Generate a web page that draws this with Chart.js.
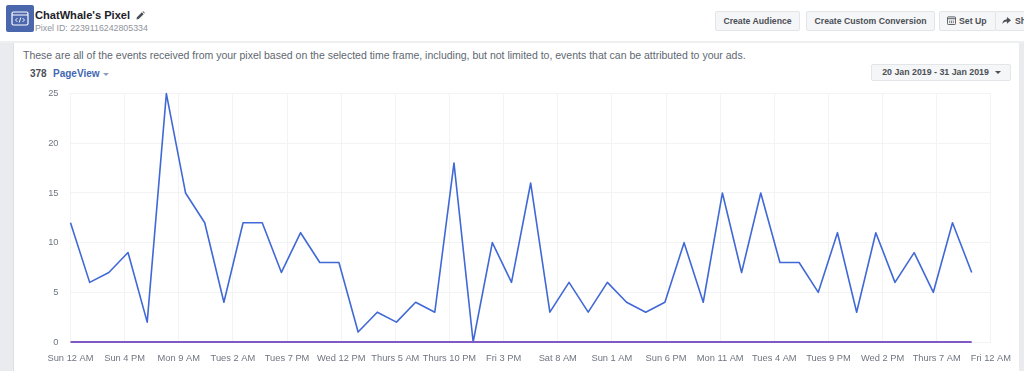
<!DOCTYPE html>
<html lang="en">
<head>
    <meta charset="UTF-8">
    <title>ChatWhale's Pixel</title>
    <script src="https://cdn.jsdelivr.net/npm/chart.js"></script>
    <style>
        html, body {
            margin: 0;
            width: 1024px;
            height: 371px;
            overflow: hidden;
            background: #fff;
            font-family: "Liberation Sans", Arial, sans-serif;
        }

        .abs { position: absolute; white-space: nowrap; }

        /* top bar */
        #divider { left: 0; top: 41px; width: 1024px; height: 2px; background: #eeeff1; }
        #sideLeft { left: 0; top: 43px; width: 13px; height: 328px; background: #e9ebee; border-right: 1px solid #dddfe2; }
        #sideRight { left: 1019px; top: 43px; width: 5px; height: 328px; background: #e9ebee; }

        #pixelIcon { left: 6px; top: 5px; width: 28px; height: 27px; }
        #title { left: 35px; top: 9px; font-size: 11.1px; font-weight: bold; color: #1d2129; }
        #subtitle { left: 35px; top: 23px; font-size: 8.8px; color: #90949c; }
        #pencil { left: 136px; top: 11px; width: 9px; height: 9px; }

        .btn {
            box-sizing: border-box;
            height: 20px;
            line-height: 18px;
            background: #f5f6f7;
            border: 1px solid #e3e5e8;
            border-radius: 2px;
            font-size: 8.7px;
            font-weight: bold;
            color: #4b4f56;
            text-align: center;
        }
        #btnAudience { left: 715px; top: 11px; width: 85px; }
        #btnConversion { left: 806px; top: 11px; width: 129px; }
        #btnSetUp { left: 939px; top: 11px; width: 57px; padding-left: 19px; text-align: left; }
        #btnShare { left: 995px; top: 11px; width: 40px; padding-left: 19px; text-align: left; }
        .btnIcon { width: 9px; height: 9px; }
        #setUpIcon { left: 947px; top: 16px; }
        #shareIcon { left: 1002px; top: 16px; }

        #intro { left: 23px; top: 49px; font-size: 10.5px; color: #606770; }
        #count { left: 30px; top: 68px; font-size: 10px; font-weight: bold; color: #4b4f56; }
        #eventName { left: 53px; top: 68px; font-size: 10px; font-weight: bold; color: #4267b2; }
        #caret { left: 103px; top: 73px; width: 0; height: 0; border-left: 3px solid transparent; border-right: 3px solid transparent; border-top: 3px solid #8b9dc3; }

        #dateRange { left: 871px; top: 64px; width: 140px; height: 17px; line-height: 15px; font-size: 8.8px; padding-right: 11px; }
        #dateCaret { left: 995px; top: 71px; width: 0; height: 0; border-left: 3px solid transparent; border-right: 3px solid transparent; border-top: 3px solid #4b4f56; }

        #chartBox { left: 14px; top: 76px; width: 1008px; height: 295px; }
    </style>
</head>
<body>
    <div class="abs" id="divider"></div>
    <div class="abs" id="sideLeft"></div>
    <div class="abs" id="sideRight"></div>

    <svg class="abs" id="pixelIcon" viewBox="0 0 28 27">
        <rect width="28" height="27" rx="2" fill="#4a66ad"/>
        <rect x="6" y="7" width="16" height="13" rx="1.5" fill="none" stroke="#fff" stroke-width="1.2"/>
        <line x1="6" y1="10" x2="22" y2="10" stroke="#fff" stroke-width="1"/>
        <path d="M11.5 13 L9.5 15 L11.5 17 M16.5 13 L18.5 15 L16.5 17 M14.8 12.5 L13.2 17.5" fill="none" stroke="#fff" stroke-width="0.9"/>
    </svg>
    <div class="abs" id="title">ChatWhale's Pixel</div>
    <div class="abs" id="subtitle">Pixel ID: 2239116242805334</div>
    <svg class="abs" id="pencil" viewBox="0 0 10 10">
        <path d="M0.5 9.5 L1 7 L6.500 1.500 L8.500 3.500 L3 9 Z M7.200 0.800 L8 0.200 L9.800 2 L9.200 2.800 Z" fill="#4b4f56"/>
    </svg>

    <div class="abs btn" id="btnAudience">Create Audience</div>
    <div class="abs btn" id="btnConversion">Create Custom Conversion</div>
    <div class="abs btn" id="btnSetUp">Set Up</div>
    <div class="abs btn" id="btnShare">Share</div>
    <svg class="abs btnIcon" id="setUpIcon" viewBox="0 0 10 10">
        <rect x="0.5" y="1" width="9" height="8.5" rx="1" fill="none" stroke="#4b4f56"/>
        <line x1="0.5" y1="3" x2="9.5" y2="3" stroke="#4b4f56"/>
        <path d="M3 5 V8 M5 5 V8 M7 5 V8" stroke="#4b4f56" stroke-width="0.8"/>
    </svg>
    <svg class="abs btnIcon" id="shareIcon" viewBox="0 0 10 10">
        <path d="M5.5 1 L10 4.800 L5.500 8.500 V6 C3 6 1.500 7 0.300 9 C0.800 5.500 2.500 3.700 5.500 3.500 Z" fill="#4b4f56"/>
    </svg>

    <div class="abs" id="intro">These are all of the events received from your pixel based on the selected time frame, including, but not limited to, events that can be attributed to your ads.</div>
    <div class="abs" id="count">378</div>
    <div class="abs" id="eventName">PageView</div>
    <div class="abs" id="caret"></div>
    <div class="abs btn" id="dateRange">20 Jan 2019 - 31 Jan 2019</div>
    <div class="abs" id="dateCaret"></div>

    <div class="abs" id="chartBox"><canvas id="pixelChart"></canvas></div>

    <script>
        // 6 hour buckets from Sun 12 AM, 378 events in total
        const hoursPerPoint = 6;
        const totalHours = 288;
        const pageViews = [12, 6, 7, 9, 2, 25, 15, 12, 4, 12, 12, 7, 11, 8, 8, 1, 3, 2, 4, 3, 18, 0, 10, 6,
                           16, 3, 6, 3, 6, 4, 3, 4, 10, 4, 15, 7, 15, 8, 8, 5, 11, 3, 11, 6, 9, 5, 12, 7];
        const baseline = pageViews.map(() => 0);
        const tickLabels = ['Sun 12 AM', 'Sun 4 PM', 'Mon 9 AM', 'Tues 2 AM', 'Tues 7 PM', 'Wed 12 PM',
                            'Thurs 5 AM', 'Thurs 10 PM', 'Fri 3 PM', 'Sat 8 AM', 'Sun 1 AM', 'Sun 6 PM',
                            'Mon 11 AM', 'Tues 4 AM', 'Tues 9 PM', 'Wed 2 PM', 'Thurs 7 AM', 'Fri 12 AM'];
        const yTicks = [0, 5, 10, 15, 20, 25];

        const toPoints = values => values.map((v, i) => ({ x: i * hoursPerPoint, y: v }));

        const gridColor = '#f2f3f5';
        const tickColor = '#6f7580';
        const tickFont = { family: '"Liberation Sans", Arial, sans-serif', size: 9.3 };

        new Chart(document.getElementById('pixelChart'), {
            type: 'line',
            data: {
                datasets: [
                    { label: 'Baseline', data: toPoints(baseline), borderColor: '#8159c4', borderWidth: 2, pointRadius: 0, tension: 0 },
                    { label: 'PageView', data: toPoints(pageViews), borderColor: '#4169d6', borderWidth: 1.6, pointRadius: 0, tension: 0, borderJoinStyle: 'round' }
                ]
            },
            options: {
                responsive: true,
                maintainAspectRatio: false,
                animation: false,
                clip: false,
                layout: { padding: { top: 11, right: 21, bottom: 0, left: 0 } },
                plugins: { legend: { display: false }, tooltip: { enabled: false } },
                scales: {
                    x: {
                        type: 'linear',
                        min: 0,
                        max: totalHours,
                        afterBuildTicks: axis => {
                            axis.ticks = tickLabels.map((label, i) => ({ value: i * totalHours / (tickLabels.length - 1), label: label }));
                        },
                        afterFit: axis => { axis.height = 29; },
                        grid: { color: gridColor, drawTicks: false },
                        border: { color: gridColor },
                        ticks: {
                            autoSkip: false,
                            maxRotation: 0,
                            padding: 11,
                            color: tickColor,
                            font: tickFont,
                            callback: (value, i) => tickLabels[i]
                        }
                    },
                    y: {
                        min: 0,
                        max: 25,
                        afterBuildTicks: axis => {
                            axis.ticks = yTicks.map(v => ({ value: v }));
                        },
                        afterFit: axis => { axis.width = 56.5; },
                        grid: { color: gridColor, drawTicks: false },
                        border: { color: gridColor },
                        ticks: { padding: 12, color: tickColor, font: tickFont }
                    }
                }
            }
        });
    </script>
</body>
</html>
